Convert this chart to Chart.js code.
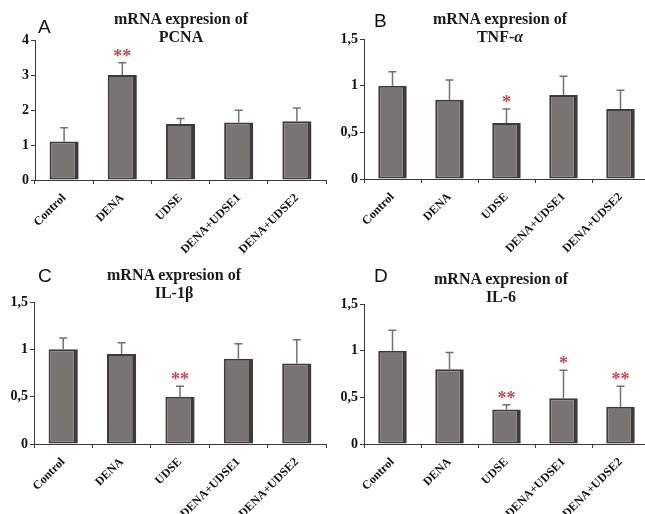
<!DOCTYPE html>
<html>
<head>
<meta charset="utf-8">
<script src="https://cdn.jsdelivr.net/npm/chart.js@4"></script>
<style>
  html, body { margin: 0; padding: 0; background: #fff; }
  body { width: 645px; height: 514px; position: relative; overflow: hidden; }
  .panel { position: absolute; }
  .panel canvas { position: absolute; left: 0; top: 0; }
  .letter { position: absolute; font-family: "Liberation Sans", Arial, sans-serif; font-size: 19px; color: #111; line-height: 1; }
  .title { position: absolute; font-family: "Liberation Serif", "Times New Roman", serif; font-weight: bold; font-size: 16px; color: #1a1a1a; text-align: center; line-height: 18px; white-space: nowrap; }
</style>
</head>
<body>
<div class="panel" id="pA" style="left:0;top:0;width:330px;height:255px;"><canvas id="cA"></canvas></div>
<div class="panel" id="pB" style="left:325px;top:0;width:330px;height:255px;"><canvas id="cB"></canvas></div>
<div class="panel" id="pC" style="left:0;top:255px;width:330px;height:259px;"><canvas id="cC"></canvas></div>
<div class="panel" id="pD" style="left:325px;top:255px;width:330px;height:259px;"><canvas id="cD"></canvas></div>

<div class="letter" style="left:38px;top:17px;">A</div>
<div class="title" style="left:111px;top:10px;width:140px;">mRNA expresion of<br>PCNA</div>
<div class="letter" style="left:374px;top:11px;">B</div>
<div class="title" style="left:430px;top:10px;width:140px;">mRNA expresion of<br><span style="font-style:normal">TNF-</span><i>α</i></div>
<div class="letter" style="left:38px;top:266px;">C</div>
<div class="title" style="left:104px;top:266px;width:140px;">mRNA expresion of<br>IL-1β</div>
<div class="letter" style="left:374px;top:266px;">D</div>
<div class="title" style="left:431px;top:270px;width:140px;">mRNA expresion of<br>IL-6</div>

<script>
// Treatment groups
const groups = ['Control', 'DENA', 'UDSE', 'DENA+UDSE1', 'DENA+UDSE2'];

// Relative mRNA expression (mean) and upper error (+SD)
const pcnaMean = [1.1, 3.0, 1.6, 1.64, 1.68];
const pcnaErr  = [0.39, 0.35, 0.16, 0.35, 0.38];
const pcnaSig  = ['', '**', '', '', ''];

const tnfMean = [1.0, 0.85, 0.6, 0.9, 0.75];
const tnfErr  = [0.15, 0.21, 0.15, 0.2, 0.2];
const tnfSig  = ['', '', '*', '', ''];

const il1Mean = [1.0, 0.95, 0.5, 0.9, 0.85];
const il1Err  = [0.12, 0.12, 0.11, 0.16, 0.25];
const il1Sig  = ['', '', '**', '', ''];

const il6Mean = [1.0, 0.8, 0.37, 0.49, 0.4];
const il6Err  = [0.22, 0.18, 0.05, 0.3, 0.22];
const il6Sig  = ['', '', '**', '*', '**'];

// Y-axis ranges
const pcnaMax = 4, pcnaStep = 1;
const cytMax = 1.5, cytStep = 0.5;

const AXIS = '#3a3a3a';

// Upper error whiskers and significance asterisks
const errorBarPlugin = {
  id: 'errorBars',
  afterDatasetsDraw(chart) {
    const { ctx } = chart;
    const meta = chart.getDatasetMeta(0);
    const ds = chart.data.datasets[0];
    const yScale = chart.scales.y;
    ctx.save();
    meta.data.forEach((bar, i) => {
      const x = bar.x;
      const yTop = yScale.getPixelForValue(ds.data[i] + ds.err[i]);
      const yBar = yScale.getPixelForValue(ds.data[i]);
      ctx.strokeStyle = '#727272';
      ctx.lineWidth = 1.5;
      ctx.beginPath();
      ctx.moveTo(x, yBar);
      ctx.lineTo(x, yTop);
      ctx.moveTo(x - 4, yTop);
      ctx.lineTo(x + 4, yTop);
      ctx.stroke();
      const s = ds.sig[i];
      if (s) {
        ctx.fillStyle = '#c8474b';
        ctx.font = 'bold 18px "Liberation Serif", serif';
        ctx.textAlign = 'center';
        ctx.textBaseline = 'alphabetic';
        ctx.fillText(s, x, yTop - 1);
      }
    });
    ctx.restore();
  }
};

function makeChart(id, w, h, mean, err, sig, yMax, yStep, area) {
  const canvas = document.getElementById(id);
  canvas.width = w; canvas.height = h;
  canvas.style.width = w + 'px'; canvas.style.height = h + 'px';
  return new Chart(canvas, {
    type: 'bar',
    data: {
      labels: groups,
      datasets: [{
        data: mean,
        err: err,
        sig: sig,
        backgroundColor: '#797472',
        borderColor: '#3e3a39',
        borderWidth: { left: 2, top: 2, right: 4, bottom: 2 },
        borderSkipped: false,
        categoryPercentage: 1,
        barPercentage: 0.5
      }]
    },
    options: {
      responsive: false,
      animation: false,
      devicePixelRatio: 1,
      layout: { padding: { top: area.top, right: area.right, left: 0, bottom: 0 } },
      plugins: { legend: { display: false }, tooltip: { enabled: false } },
      scales: {
        x: {
          grid: { display: true, offset: true, drawOnChartArea: false, drawTicks: true, tickLength: 4, color: AXIS },
          border: { display: true, color: AXIS, width: 1 },
          ticks: {
            minRotation: 45, maxRotation: 45, padding: 7,
            color: '#111',
            font: { family: '"Liberation Serif", "Times New Roman", serif', weight: 'bold', size: 12 }
          },
          afterFit(scale) { scale.height = area.xh; scale.paddingLeft = 0; scale.paddingRight = 0; }
        },
        y: {
          min: 0, max: yMax,
          grid: { display: true, drawOnChartArea: false, drawTicks: true, tickLength: 4, color: AXIS },
          border: { display: true, color: AXIS, width: 1 },
          ticks: {
            stepSize: yStep, padding: 2, color: '#111',
            font: { family: '"Liberation Serif", "Times New Roman", serif', weight: 'bold', size: 14 },
            callback: (v) => String(Math.round(v * 10) / 10).replace('.', ',')
          },
          afterFit(scale) { scale.width = area.yw; scale.paddingTop = 0; scale.paddingBottom = 0; }
        }
      }
    },
    plugins: [errorBarPlugin]
  });
}

makeChart('cA', 330, 255, pcnaMean, pcnaErr, pcnaSig, pcnaMax, pcnaStep, { top: 40, right: 4, yw: 35, xh: 75 });
makeChart('cB', 330, 255, tnfMean, tnfErr, tnfSig, cytMax, cytStep, { top: 39, right: 6, yw: 39, xh: 76 });
makeChart('cC', 330, 259, il1Mean, il1Err, il1Sig, cytMax, cytStep, { top: 47, right: 4, yw: 34, xh: 70 });
makeChart('cD', 330, 259, il6Mean, il6Err, il6Sig, cytMax, cytStep, { top: 49, right: 6, yw: 39, xh: 70 });
</script>
</body>
</html>
